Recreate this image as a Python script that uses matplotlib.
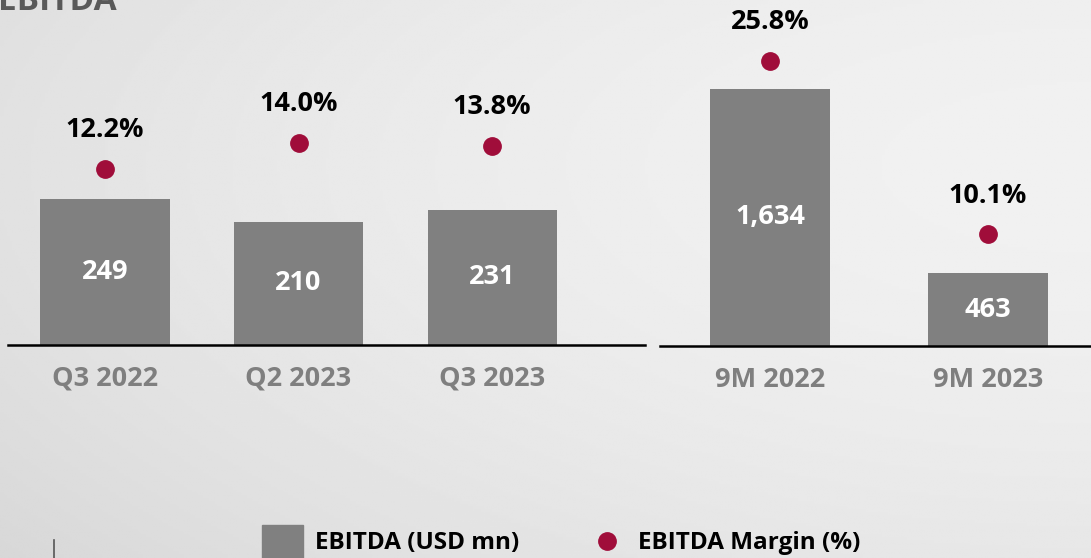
import numpy as np
import matplotlib
matplotlib.use("Agg")
import matplotlib.pyplot as plt
from matplotlib.patches import Rectangle
from matplotlib.lines import Line2D

plt.rcParams['font.family'] = ['Open Sans', 'DejaVu Sans']

# Data
q_categories = ["Q3 2022", "Q2 2023", "Q3 2023"]
q_ebitda = [249, 210, 231]
q_margin = [12.2, 14.0, 13.8]
q_ebitda_labels = ["249", "210", "231"]

m_categories = ["9M 2022", "9M 2023"]
m_ebitda = [1634, 463]
m_margin = [25.8, 10.1]
m_ebitda_labels = ["1,634", "463"]

W, H = 1091, 558
fig = plt.figure(figsize=(W / 100, H / 100), dpi=100)

# background gradient
bg = fig.add_axes([0, 0, 1, 1], zorder=-10)
xx = np.linspace(0, 1, 400)
yy = np.linspace(0, 1, 200)
X, Y = np.meshgrid(xx, yy)
val = 0.955 - 0.06 * (1 - X) ** 2 - 0.05 * Y ** 2 - 0.02 * (1 - Y) ** 3
bg.imshow(val, cmap='gray', vmin=0, vmax=1, aspect='auto', extent=[0, 1, 0, 1])
bg.axis('off')

BAR = '#808080'
DOT = '#a00d3a'
LABEL_GRAY = '#7f7f7f'
FS = 19.5


def px(x0, y0, x1, y1):
    return [x0 / W, (H - y1) / H, (x1 - x0) / W, (y1 - y0) / H]


def panel(rect, cats, vals, margins, vlabels, xlim, bw, ymax, mmax):
    ax = fig.add_axes(rect)
    ax.patch.set_alpha(0)
    x = np.arange(len(cats))
    ax.bar(x, vals, width=bw, color=BAR, zorder=2)
    for xi, v, lab in zip(x, vals, vlabels):
        ax.text(xi, v / 2, lab, ha='center', va='center', color='white',
                fontsize=FS, fontweight='bold', zorder=3)
    ax.set_xlim(*xlim)
    ax.set_ylim(0, ymax)
    for s in ['top', 'right', 'left']:
        ax.spines[s].set_visible(False)
    ax.spines['bottom'].set_linewidth(1.8)
    ax.spines['bottom'].set_color('black')
    ax.set_yticks([])
    ax.set_xticks(x)
    ax.set_xticklabels(cats, fontsize=FS, fontweight='bold', color=LABEL_GRAY)
    ax.tick_params(axis='x', length=0, pad=15)
    ax2 = ax.twinx()
    ax2.set_ylim(0, mmax)
    ax2.axis('off')
    ax2.plot(x, margins, 'o', color=DOT, markersize=12.5, linestyle='none')
    for xi, m in zip(x, margins):
        ax2.annotate(f"{m:.1f}%", (xi, m), xytext=(0, 28), textcoords='offset points',
                     ha='center', va='center', fontsize=FS, fontweight='bold', color='black')
    return ax


panel(px(8, 0, 645, 345), q_categories, q_ebitda, q_margin, q_ebitda_labels,
      (-0.501, 2.79), 0.667, 345 / 0.586, 345 / 14.43)
panel(px(660, 0, 1091, 346), m_categories, m_ebitda, m_margin, m_ebitda_labels,
      (-0.505, 1.472), 0.55, 346 / 0.1573, 346 / 11.05)

# title (clipped at top, as in the reference)
fig.text(-0.002, 1 - 10 / H, "EBITDA", ha='left', va='baseline', fontsize=24,
         fontweight='bold', color='#595959')

# small vertical line bottom-left
fig.add_artist(Line2D([54 / W, 54 / W], [0, 18 / H], color='#555555', linewidth=1.2))

# legend
fig.add_artist(Rectangle((262 / W, (H - 566) / H), 41 / W, 41 / H, color=BAR,
                         transform=fig.transFigure))
fig.text(315 / W, 1 - 543 / H, "EBITDA (USD mn)", ha='left', va='center',
         fontsize=17.5, fontweight='bold', color='black')
fig.add_artist(Line2D([607 / W], [1 - 541 / H], marker='o', color=DOT, markersize=12.5,
                      linestyle='none', transform=fig.transFigure))
fig.text(638 / W, 1 - 543 / H, "EBITDA Margin (%)", ha='left', va='center',
         fontsize=17.5, fontweight='bold', color='black')

fig.savefig('out.png', dpi=100)
